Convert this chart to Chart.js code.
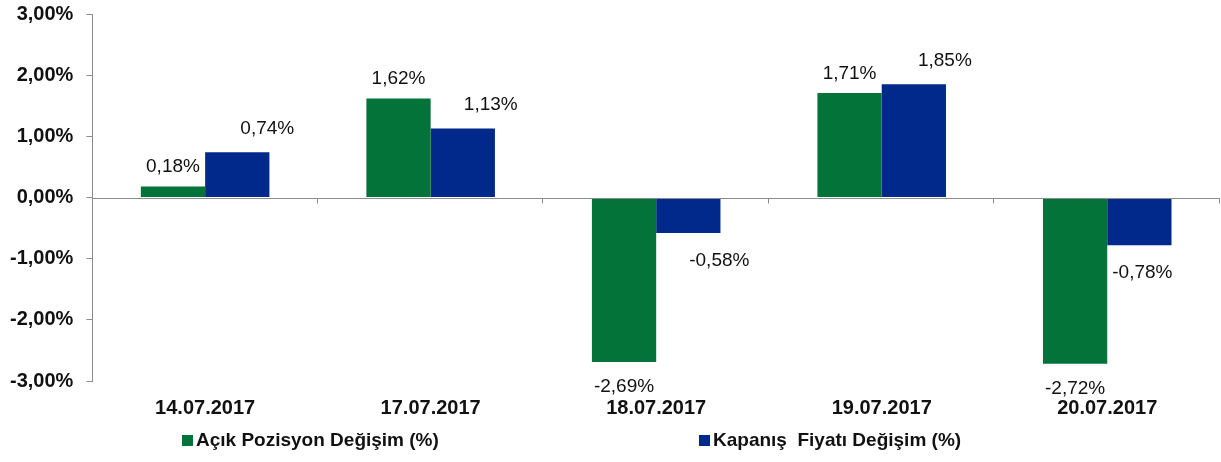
<!DOCTYPE html>
<html>
<head>
<meta charset="utf-8">
<script src="https://cdn.jsdelivr.net/npm/chart.js@4/dist/chart.umd.min.js"></script>
<style>
  html, body { margin: 0; padding: 0; background: #ffffff; }
  #wrap { position: relative; width: 1221px; height: 462px; }
  canvas { display: block; }
</style>
</head>
<body>
<div id="wrap"><canvas id="c" width="1221" height="462"></canvas></div>
<script>
const categories = ['14.07.2017', '17.07.2017', '18.07.2017', '19.07.2017', '20.07.2017'];
const seriesNames = ['Açık Pozisyon Değişim (%)', 'Kapanış  Fiyatı Değişim (%)'];
const acikPozisyon = [0.18, 1.62, -2.69, 1.71, -2.72];
const kapanisFiyati = [0.74, 1.13, -0.58, 1.85, -0.78];
const yTicks = [-3, -2, -1, 0, 1, 2, 3];

const FONT = "'Liberation Sans', Arial, sans-serif";
const GREEN = '#04733A';
const BLUE = '#01298B';
const AXIS = '#8c8c8c';
const fmt = v => v.toFixed(2).replace('.', ',') + '%';

const zeroLinePlugin = {
  id: 'zeroLine',
  afterDatasetsDraw(chart) {
    const { ctx, chartArea, scales } = chart;
    const y0 = Math.round(scales.y.getPixelForValue(0)) + 0.5;
    const xs = scales.x;
    const half = (xs.getPixelForValue(1) - xs.getPixelForValue(0)) / 2;
    ctx.save();
    ctx.strokeStyle = AXIS;
    ctx.lineWidth = 1;
    ctx.beginPath();
    ctx.moveTo(chartArea.left, y0);
    ctx.lineTo(chartArea.right, y0);
    for (let i = 0; i < categories.length; i++) {
      const x = Math.round(xs.getPixelForValue(i) + half) - 0.5;
      ctx.moveTo(x, y0);
      ctx.lineTo(x, y0 + 5);
    }
    ctx.stroke();
    ctx.restore();
  }
};

const valueLabelPlugin = {
  id: 'valueLabels',
  afterDatasetsDraw(chart) {
    const { ctx } = chart;
    ctx.save();
    ctx.font = '19px ' + FONT;
    ctx.fillStyle = '#111111';
    ctx.textAlign = 'center';
    chart.data.datasets.forEach((ds, di) => {
      const meta = chart.getDatasetMeta(di);
      meta.data.forEach((bar, i) => {
        const v = ds.data[i];
        const dx = (ds.labelDx && ds.labelDx[i]) || 0;
        const x = bar.x + dx;
        if (v >= 0) {
          ctx.textBaseline = 'bottom';
          ctx.fillText(fmt(v), x, bar.y - ds.labelGapUp);
        } else {
          ctx.textBaseline = 'top';
          ctx.fillText(fmt(v), x, bar.y + ds.labelGapDown);
        }
      });
    });
    ctx.restore();
  }
};

const legendPlugin = {
  id: 'customLegend',
  afterDraw(chart) {
    const { ctx } = chart;
    const opts = chart.options.plugins.customLegend;
    ctx.save();
    ctx.font = 'bold 19px ' + FONT;
    ctx.textBaseline = 'middle';
    ctx.textAlign = 'left';
    chart.data.datasets.forEach((ds, di) => {
      const x = opts.itemX[di];
      const y = opts.y;
      ctx.fillStyle = ds.backgroundColor;
      ctx.fillRect(x, y - 6, 11, 11);
      ctx.fillStyle = '#111111';
      ctx.fillText(ds.label, x + 14, y);
    });
    ctx.restore();
  }
};

new Chart(document.getElementById('c'), {
  type: 'bar',
  data: {
    labels: categories,
    datasets: [
      {
        label: seriesNames[0],
        data: acikPozisyon,
        backgroundColor: GREEN,
        labelGapUp: 10,
        labelGapDown: 15,
        labelDx: [0, 0, 0, 0, 0]
      },
      {
        label: seriesNames[1],
        data: kapanisFiyati,
        backgroundColor: BLUE,
        labelGapUp: 14,
        labelGapDown: 18,
        labelDx: [30, 28, 31, 31, 3]
      }
    ]
  },
  options: {
    responsive: false,
    animation: false,
    events: [],
    categoryPercentage: 0.57,
    barPercentage: 1.0,
    layout: { padding: { top: 0, left: -3, right: 1, bottom: 27 } },
    plugins: {
      legend: { display: false },
      tooltip: { enabled: false },
      customLegend: { itemX: [182, 699], y: 441 }
    },
    scales: {
      x: {
        grid: { display: false, drawTicks: false },
        border: { display: false },
        ticks: {
          color: '#111111',
          font: { family: FONT, size: 20, weight: 'bold' },
          padding: 15,
          maxRotation: 0
        }
      },
      y: {
        min: -3,
        max: 3,
        afterBuildTicks(scale) { scale.ticks = yTicks.map(v => ({ value: v })); },
        afterFit(scale) { scale.paddingTop = 14; scale.paddingBottom = 12; },
        grid: { drawOnChartArea: false, tickLength: 6, color: AXIS, tickColor: AXIS },
        border: { display: true, color: AXIS, width: 1 },
        ticks: {
          color: '#111111',
          font: { family: FONT, size: 20, weight: 'bold' },
          padding: 13,
          callback: v => fmt(v)
        }
      }
    }
  },
  plugins: [zeroLinePlugin, valueLabelPlugin, legendPlugin]
});
</script>
</body>
</html>
